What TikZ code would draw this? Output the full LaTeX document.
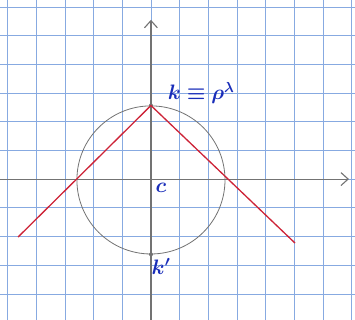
\documentclass[tikz,border=0pt]{standalone}
\usepackage{amsmath}
\usepackage{bm}
\usetikzlibrary{arrows.meta}
\definecolor{gridblue}{RGB}{135,170,225}
\definecolor{inkblue}{RGB}{25,45,185}
\definecolor{pencil}{RGB}{115,115,115}
\definecolor{tanred}{RGB}{205,35,55}

\begin{document}
\begin{tikzpicture}[every node/.style={font=\fontsize{21}{23}\selectfont},
  axis/.style={pencil, line width=1.1pt, -{Straight Barb[length=2.5mm,width=4.5mm]}},
  tangent/.style={tanred, line width=1.3pt},
  ink/.style={inkblue},
  dot/.style={circle, fill=pencil, inner sep=0pt, minimum size=4pt}]
\useasboundingbox (-5.26,-4.91) rectangle (7.11,6.24);
% graph paper
\draw[gridblue, line width=.7pt] (-5.26,-4.91) grid (7.11,6.24);
% axes
\coordinate (xl) at (-5.26,0);
\coordinate (xr) at (6.9,0);
\coordinate (yb) at (0,-4.91);
\coordinate (yt) at (0,5.55);
\draw[axis] (xl) -- (xr);
\draw[axis] (yb) -- (yt);
% circle about c
\node[circle, draw=pencil, line width=.8pt, inner sep=0pt, minimum size=5.16cm] (circ) at (0,-0.03) {};
\node[ink] (c) at (0.35,-0.3) {$\bm{c}$};
% points on the circle
\node[dot] (K) at (circ.north) {};
\node[dot] (Kp) at (circ.south) {};
% tangent lines through K
\coordinate (tl) at (-4.63,-2.02);
\coordinate (tr) at (5.02,-2.23);
\draw[tangent] (tl) -- (K.center) -- (tr);
% labels
\node[ink] (Klabel) at (1.75,3.0) {$\bm{k\equiv\rho^{\lambda}}$};
\node[ink] (Kplabel) at (0.35,-3.05) {$\bm{k'}$};
\end{tikzpicture}
\end{document}
